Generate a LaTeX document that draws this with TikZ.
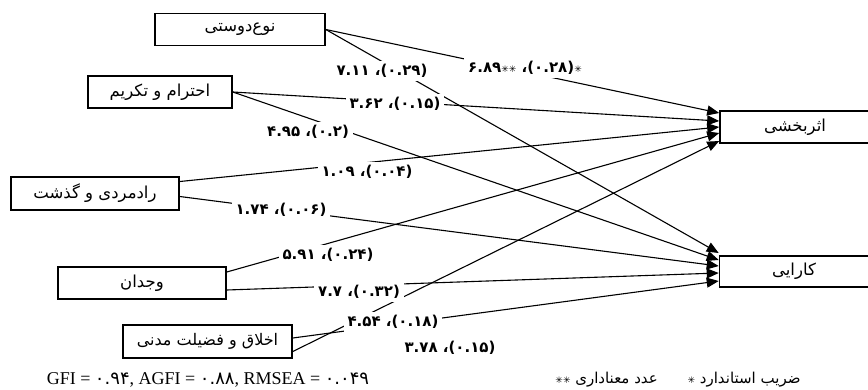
\documentclass[tikz,border=0pt]{standalone}
\usepackage{fontspec}
\setmainfont{Liberation Serif}
\newfontfamily\ar[Script=Arabic]{DejaVu Sans}
\newfontfamily\pnum{DejaVu Sans}
\TeXXeTstate=1
\usetikzlibrary{arrows.meta}
\newcommand{\myst}{{\fontsize{9}{9}\selectfont ✳}}
\begin{document}
\begin{tikzpicture}[x=1pt,y=-1pt,
  box/.style={draw, line width=1.6pt, fill=white, inner sep=0pt, font=\ar\fontsize{16.5}{18}\selectfont},
  lbl/.style={fill=white, inner xsep=4pt, inner ysep=3pt, font=\pnum\bfseries\fontsize{15}{17}\selectfont},
  conn/.style={line width=1.1pt, -{Triangle[length=12pt,width=10pt]}}]
\useasboundingbox[fill=white] (0,0) rectangle (868,389);
% boxes
\node[box, minimum width=170pt, minimum height=32pt] (b1) at (240,29.5) {\beginR نوع‌دوستی\endR};
\node[box, minimum width=144pt, minimum height=32pt] (b2) at (160,92) {\beginR احترام و تکریم\endR};
\node[box, minimum width=168pt, minimum height=33pt] (b3) at (95,193.5) {\beginR رادمردی و گذشت\endR};
\node[box, minimum width=168pt, minimum height=32pt] (b4) at (142,283) {\beginR وجدان\endR};
\node[box, minimum width=169pt, minimum height=33pt, font=\ar\fontsize{16}{18}\selectfont] (b5) at (207.5,341.5) {\beginR اخلاق و فضیلت مدنی\endR};
\node[box, minimum width=160pt, minimum height=32pt] (t1) at (800,127) {\hspace*{-10pt}\beginR اثربخشی\endR};
\node[box, minimum width=161pt, minimum height=31pt] (t2) at (800,271.5) {\hspace*{-12pt}\beginR کارایی\endR};
% connectors
\draw[conn] (b1.east) -- ([yshift=14pt]t1.west);
\draw[conn] (b1.east) -- ([yshift=18.5pt]t2.west);
\draw[conn] (b2.east) -- ([yshift=6pt]t1.west);
\draw[conn] (b2.east) -- ([yshift=11.5pt]t2.west);
\draw[conn] ([yshift=12pt]b3.east) -- (t1.west);
\draw[conn] ([yshift=-3pt]b3.east) -- ([yshift=5.5pt]t2.west);
\draw[conn] ([yshift=11pt]b4.east) -- ([yshift=-6pt]t1.west);
\draw[conn] ([yshift=-7pt]b4.east) -- ([yshift=-1.5pt]t2.west);
\draw[conn] ([yshift=-10pt]b5.east) -- ([yshift=-14pt]t1.west);
\draw[conn] ([yshift=3.5pt]b5.east) -- ([yshift=-9.5pt]t2.west);
% labels
\node[lbl] (l1) at (382,71) {۷.۱۱ ،(۰.۲۹)};
\node[lbl] (l2) at (525,68) {۶.۸۹\myst\myst{} ،(۰.۲۸)\myst};
\node[lbl] (l3) at (395,104) {۳.۶۲ ،(۰.۱۵)};
\node[lbl] (l4) at (308,132) {۴.۹۵ ،(۰.۲)};
\node[lbl] (l5) at (367,172) {۱.۰۹ ،(۰.۰۴)};
\node[lbl] (l6) at (281,210) {۱.۷۴ ،(۰.۰۶)};
\node[lbl] (l7) at (328,255) {۵.۹۱ ،(۰.۲۴)};
\node[lbl] (l8) at (359,292) {۷.۷ ،(۰.۳۲)};
\node[lbl] (l9) at (393,322) {۴.۵۴ ،(۰.۱۸)};
\node[lbl] (l10) at (450,348) {۳.۷۸ ،(۰.۱۵)};
% fit indices and legend
\node[font=\fontsize{18}{20}\selectfont] (fit) at (208,380) {GFI = {\pnum ۰.۹۴}, AGFI = {\pnum ۰.۸۸}, RMSEA = {\pnum ۰.۰۴۹}};
\node[font=\ar\fontsize{15}{17}\selectfont] (leg) at (678,380) {\beginR ضریب استاندارد \myst\hspace{25pt} عدد معناداری \myst\myst\endR};
\end{tikzpicture}
\end{document}
